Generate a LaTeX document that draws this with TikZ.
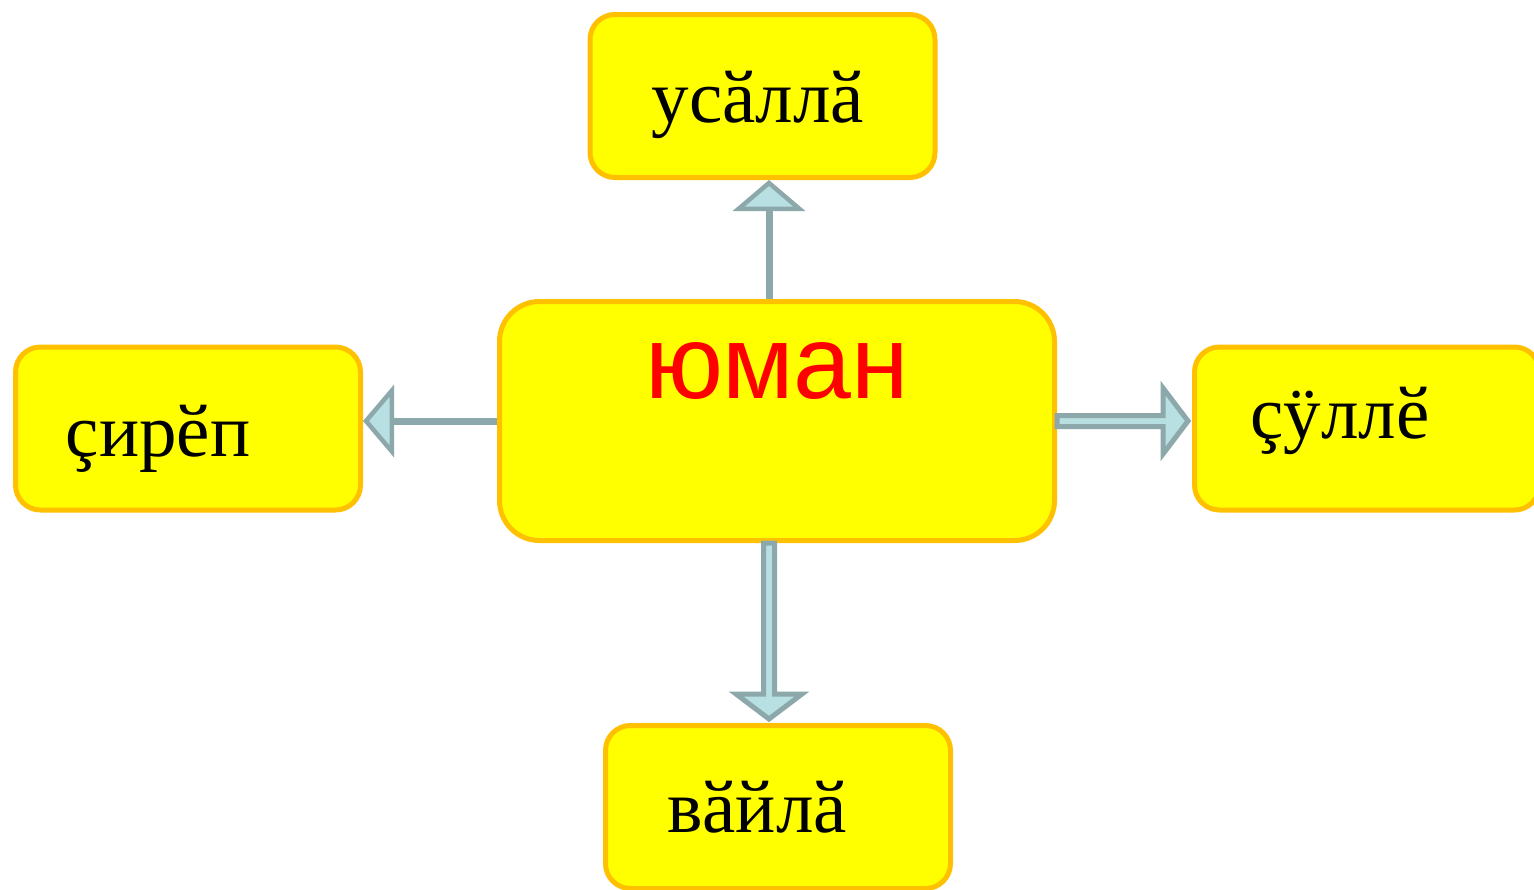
\documentclass[tikz,border=0pt]{standalone}
\usepackage{fontspec}
\setmainfont{Liberation Serif}
\newfontfamily\arialfont{Liberation Sans}
\usetikzlibrary{arrows.meta,calc}
\definecolor{boxfill}{HTML}{FFFF00}
\definecolor{boxline}{HTML}{FFC000}
\definecolor{arrline}{HTML}{8CA8AA}
\definecolor{arrfill}{HTML}{B8DFE1}
\begin{document}
\begin{tikzpicture}[x=1pt,y=-1pt,
  box/.style={draw=boxline,fill=boxfill,line width=5pt,rounded corners=25pt,
    minimum width=345pt,minimum height=163pt,inner sep=0pt},
  bigbox/.style={box,rounded corners=40pt,minimum width=555pt,minimum height=239pt},
  lbl/.style={anchor=base,inner sep=0pt,font=\fontsize{75}{86}\selectfont},
  mainlbl/.style={anchor=base,inner sep=0pt,text=red,font=\arialfont\fontsize{104}{120}\selectfont},
  single/.style={draw=arrline,line width=7pt,
    -{Triangle[width=72pt,length=31pt,fill=arrfill,line width=4.5pt]}},
  hollow/.style={draw=arrline,fill=arrfill,line width=5pt,line join=miter}]
\useasboundingbox (0,0) rectangle (1534,889);
% boxes
\node[bigbox] (c) at (777,421) {};
\node[box] (t) at (762.5,96) {};
\node[box] (l) at (188,428.5) {};
\node[box] (r) at (1367,428.5) {};
\node[box] (b) at (778,807) {};
% labels
\node[mainlbl] (ct) at (777,398) {юман};
\node[lbl] (tt) at (758,122) {усӑллӑ};
\node[lbl] (lt) at (158,456) {çирӗп};
\node[lbl] (rt) at (1340,438) {çӱллӗ};
\node[lbl] (bt) at (757,832) {вӑйлӑ};
% axes for connectors
\coordinate (vx) at (769,0);
\coordinate (hy) at (0,421);
% single-line arrows
\draw[single] (c.north -| vx) -- (t.south -| vx);
\draw[single] (c.west |- hy) -- (l.east |- hy);
% hollow arrows
\draw[hollow] ($(c.east |- hy)+(0,-5.5)$) -- ($(r.west |- hy)+(-29,-5.5)$)
  -- ($(r.west |- hy)+(-29,-33)$) -- ($(r.west |- hy)+(-4,0)$)
  -- ($(r.west |- hy)+(-29,33)$) -- ($(r.west |- hy)+(-29,5.5)$)
  -- ($(c.east |- hy)+(0,5.5)$) -- cycle;
\draw[hollow] ($(c.south -| vx)+(-5.5,0)$) -- ($(b.north -| vx)+(-5.5,-29)$)
  -- ($(b.north -| vx)+(-33,-29)$) -- ($(b.north -| vx)+(0,-4)$)
  -- ($(b.north -| vx)+(33,-29)$) -- ($(b.north -| vx)+(5.5,-29)$)
  -- ($(c.south -| vx)+(5.5,0)$) -- cycle;
\end{tikzpicture}
\end{document}
